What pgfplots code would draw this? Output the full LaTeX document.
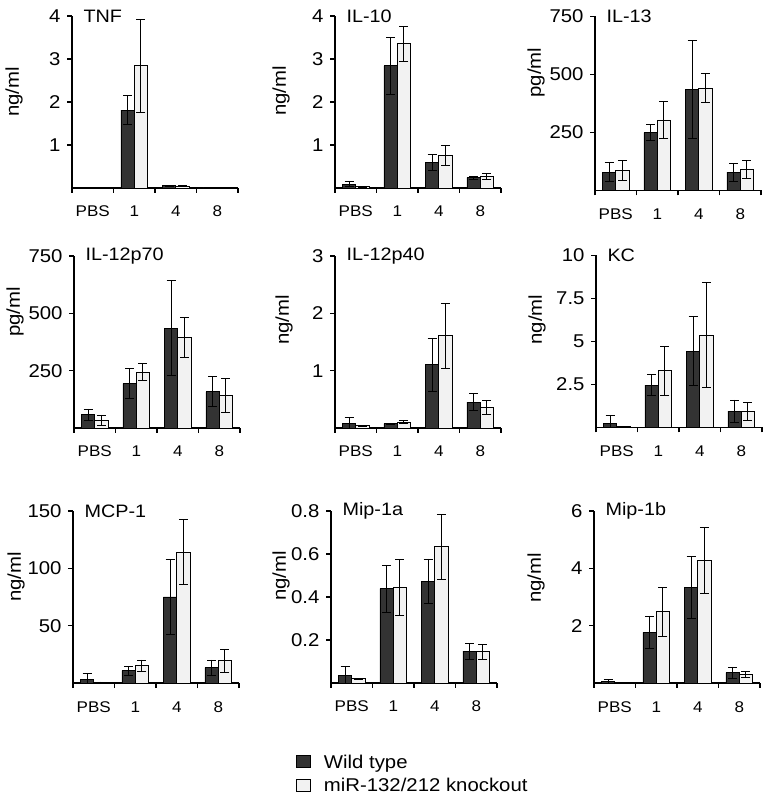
\documentclass[border=0pt]{standalone}
\usepackage{fontspec}
\setmainfont{Liberation Sans}[FakeStretch=1.1]
\usepackage{pgfplots}
\usepackage{pgfplotstable}
\pgfplotsset{compat=1.18}
\definecolor{wtc}{HTML}{333333}
\definecolor{koc}{HTML}{F2F2F2}

\pgfplotstableread{
x wt wte ko koe
0 0.01 0 0.01 0
1 1.81 0.34 2.84 1.09
2 0.05 0.01 0.04 0.01
3 0.02 0 0.02 0
}\tnf
\pgfplotstableread{
x wt wte ko koe
0 0.09 0.06 0.03 0.01
1 2.84 0.67 3.35 0.41
2 0.60 0.18 0.75 0.23
3 0.24 0.03 0.27 0.06
}\ilten
\pgfplotstableread{
x wt wte ko koe
0 79 40 85 43
1 249 35 304 78
2 435 211 441 63
3 79 38 90 38
}\ilthirteen
\pgfplotstableread{
x wt wte ko koe
0 57 26 35 22
1 193 66 244 37
2 435 207 396 87
3 158 66 141 74
}\ilpseventy
\pgfplotstableread{
x wt wte ko koe
0 0.087 0.10 0.04 0.01
1 0.075 0.01 0.10 0.025
2 1.10 0.47 1.61 0.57
3 0.45 0.15 0.36 0.125
}\ilpforty
\pgfplotstableread{
x wt wte ko koe
0 0.23 0.45 0.04 0
1 2.46 0.61 3.29 1.41
2 4.43 2.0 5.38 3.05
3 0.95 0.65 0.91 0.52
}\kc
\pgfplotstableread{
x wt wte ko koe
0 2.9 5.5 0.9 0
1 10.7 3.9 15.3 4.8
2 75 32.7 114.1 28.4
3 13.3 6.8 19.4 10.2
}\mcp
\pgfplotstableread{
x wt wte ko koe
0 0.037 0.04 0.019 0
1 0.439 0.109 0.443 0.13
2 0.474 0.103 0.633 0.153
3 0.148 0.036 0.145 0.033
}\mipa
\pgfplotstableread{
x wt wte ko koe
0 0.06 0.07 0.02 0.01
1 1.77 0.57 2.49 0.85
2 3.34 1.07 4.29 1.15
3 0.36 0.20 0.29 0.11
}\mipb

\pgfplotsset{
  panel/.style={
    scale only axis, width=166pt, height=172pt, anchor=south west,
    xmin=-0.5, xmax=3.5, ymin=0,
    axis x line=bottom, axis y line=left,
    axis line style={-, line width=1.1pt, black},
    xtick={0,1,2,3}, xticklabels={PBS,1,4,8},
    minor xtick={-0.5,0.5,1.5,2.5,3.5},
    every major x tick/.append style={draw=none},
    every minor x tick/.append style={line width=1.1pt, black},
    every major y tick/.append style={line width=1.1pt, black},
    tick align=outside, major tick length=5pt, minor tick length=5pt,
    x tick label style={font=\fontsize{15.5}{15.5}\selectfont, anchor=base, yshift=-24pt},
    y tick label style={font=\fontsize{18.5}{18.5}\selectfont, xshift=-3pt},
    every axis y label/.style={rotate=90, anchor=center, font=\fontsize{18.5}{18.5}\selectfont},
    every axis title/.style={at={(axis description cs:0,1)}, anchor=west, xshift=8pt, font=\fontsize{18}{18}\selectfont},
    ybar, bar width=0.32,
  },
  wtplot/.style={fill=wtc, draw=black, line width=0.9pt, bar shift=-0.16,
    error bars/y dir=both, error bars/y explicit,
    error bars/error bar style={line width=0.8pt, black},
    error bars/error mark options={rotate=90, mark size=4.5pt, line width=0.8pt, black}},
  koplot/.style={fill=koc, draw=black, line width=0.9pt, bar shift=0.16,
    error bars/y dir=both, error bars/y explicit,
    error bars/error bar style={line width=0.8pt, black},
    error bars/error mark options={rotate=90, mark size=4.5pt, line width=0.8pt, black}},
  sqlegend/.style={legend image code/.code={\draw[##1, line width=0.9pt] (0pt,-5pt) rectangle (14pt,7pt);}},
}

\begin{document}
\begin{tikzpicture}
\path[use as bounding box] (0,0) rectangle (768pt,797pt);

% Row 1
\begin{axis}[panel, at={(72pt,609pt)}, ymax=4, ytick={1,2,3,4}, yticklabels={1,2,3,4},
  title={TNF}, ylabel={ng/ml}, ylabel style={at={(axis description cs:-0.349,0.558)}}]
\addplot[wtplot] table[x=x, y=wt, y error=wte] {\tnf};
\addplot[koplot] table[x=x, y=ko, y error=koe] {\tnf};
\end{axis}

\begin{axis}[panel, at={(335pt,609pt)}, ymax=4, ytick={1,2,3,4}, yticklabels={1,2,3,4},
  title={IL-10}, ylabel={ng/ml}, ylabel style={at={(axis description cs:-0.325,0.564)}}]
\addplot[wtplot] table[x=x, y=wt, y error=wte] {\ilten};
\addplot[koplot] table[x=x, y=ko, y error=koe] {\ilten};
\end{axis}

\begin{axis}[panel, at={(595pt,606.5pt)}, height=174pt, ymax=750, ytick={250,500,750}, yticklabels={250,500,750},
  title={IL-13}, ylabel={pg/ml}, ylabel style={at={(axis description cs:-0.355,0.678)}}]
\addplot[wtplot] table[x=x, y=wt, y error=wte] {\ilthirteen};
\addplot[koplot] table[x=x, y=ko, y error=koe] {\ilthirteen};
\end{axis}

% Row 2
\begin{axis}[panel, at={(74pt,369pt)}, ymax=750, ytick={250,500,750}, yticklabels={250,500,750},
  title={IL-12p70}, ylabel={pg/ml}, ylabel style={at={(axis description cs:-0.355,0.674)}}]
\addplot[wtplot] table[x=x, y=wt, y error=wte] {\ilpseventy};
\addplot[koplot] table[x=x, y=ko, y error=koe] {\ilpseventy};
\end{axis}

\begin{axis}[panel, at={(335pt,369pt)}, ymax=3, ytick={1,2,3}, yticklabels={1,2,3},
  title={IL-12p40}, ylabel={ng/ml}, ylabel style={at={(axis description cs:-0.307,0.628)}}]
\addplot[wtplot] table[x=x, y=wt, y error=wte] {\ilpforty};
\addplot[koplot] table[x=x, y=ko, y error=koe] {\ilpforty};
\end{axis}

\begin{axis}[panel, at={(596pt,369.5pt)}, ymax=10, ytick={2.5,5,7.5,10}, yticklabels={2.5,5,7.5,10},
  title={KC}, ylabel={ng/ml}, ylabel style={at={(axis description cs:-0.355,0.628)}}]
\addplot[wtplot] table[x=x, y=wt, y error=wte] {\kc};
\addplot[koplot] table[x=x, y=ko, y error=koe] {\kc};
\end{axis}

% Row 3
\begin{axis}[panel, at={(73pt,114pt)}, ymax=150, ytick={50,100,150}, yticklabels={50,100,150},
  title={MCP-1}, ylabel={ng/ml}, ylabel style={at={(axis description cs:-0.343,0.616)}}]
\addplot[wtplot] table[x=x, y=wt, y error=wte] {\mcp};
\addplot[koplot] table[x=x, y=ko, y error=koe] {\mcp};
\end{axis}

\begin{axis}[panel, at={(331pt,114pt)}, ymax=0.8, ytick={0.2,0.4,0.6,0.8}, yticklabels={0.2,0.4,0.6,0.8},
  title={Mip-1a}, ylabel={ng/ml}, ylabel style={at={(axis description cs:-0.30,0.622)}},
  legend style={at={(axis description cs:-0.212,-0.418)}, anchor=north west, draw=none, fill=none,
    font=\fontsize{18.5}{18.5}\selectfont, row sep=8.5pt, column sep=13pt, inner sep=0pt,
    nodes={inner sep=0pt}},
  legend cell align=left]
\addplot[wtplot, sqlegend] table[x=x, y=wt, y error=wte] {\mipa};
\addlegendentry{Wild type}
\addplot[koplot, sqlegend] table[x=x, y=ko, y error=koe] {\mipa};
\addlegendentry{miR-132/212 knockout}
\end{axis}

\begin{axis}[panel, at={(594pt,114pt)}, ymax=6, ytick={2,4,6}, yticklabels={2,4,6},
  title={Mip-1b}, ylabel={ng/ml}, ylabel style={at={(axis description cs:-0.349,0.61)}}]
\addplot[wtplot] table[x=x, y=wt, y error=wte] {\mipb};
\addplot[koplot] table[x=x, y=ko, y error=koe] {\mipb};
\end{axis}

\end{tikzpicture}
\end{document}
